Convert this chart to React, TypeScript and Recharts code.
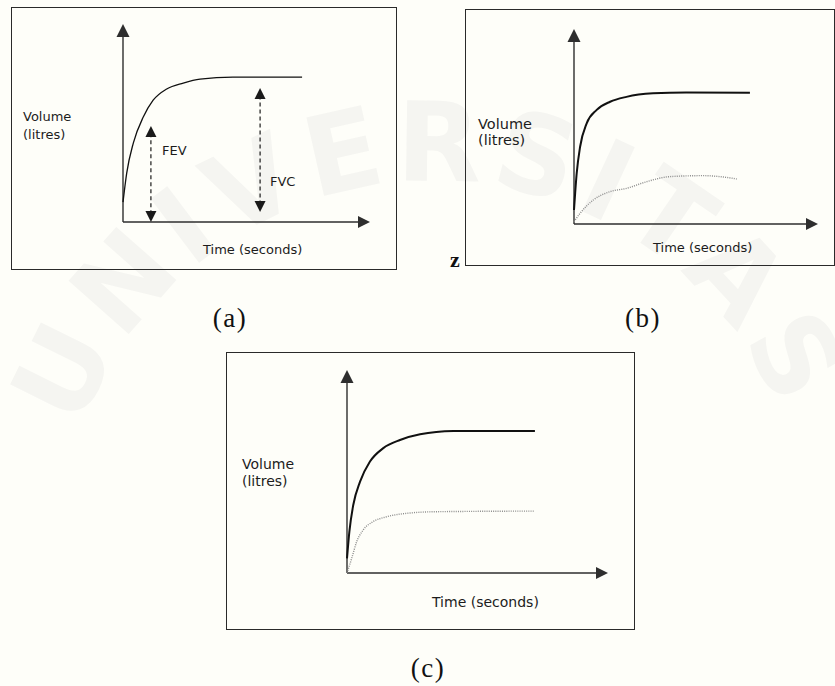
import React from 'react';
import { LineChart, Line, XAxis, YAxis, ReferenceLine } from 'recharts';

// spirometry traces on a 0-10 time / 0-10 volume grid
const timeA = [0, 0.15, 0.42, 0.82, 1.22, 1.77, 2.44, 3.12, 4.45, 7.25];
const volumeA = [1.0, 2.47, 4.0, 5.3, 6.15, 6.72, 7.02, 7.22, 7.32, 7.32];

const timeB = [0, 0.11, 0.25, 0.52, 0.93, 1.48, 2.15, 3.24, 4.6, 7.21];
const volumeB = [0.72, 2.6, 3.96, 5.16, 5.85, 6.27, 6.52, 6.7, 6.75, 6.73];
const timeBLow = [0, 0.25, 0.79, 1.48, 2.16, 2.98, 3.93, 5.3, 5.98, 6.67];
const volumeBLow = [0.12, 0.55, 1.23, 1.66, 1.83, 2.17, 2.43, 2.48, 2.43, 2.31];

const timeC = [0, 0.09, 0.24, 0.5, 0.88, 1.39, 2.03, 2.8, 4.08, 5.35, 7.2];
const volumeC = [0.72, 2.03, 3.35, 4.5, 5.49, 6.15, 6.55, 6.83, 6.99, 7.0, 7.0];
const timeCLow = [0, 0.18, 0.37, 0.62, 1.0, 1.52, 2.29, 3.44, 7.2];
const volumeCLow = [0.01, 0.72, 1.54, 2.12, 2.53, 2.77, 2.94, 3.02, 3.05];

// FEV / FVC markers in panel (a): [time, from volume, to volume]
const fevSpan = [1.13, 0, 4.85];
const fvcSpan = [5.55, 0.5, 6.77];

const toRows = (t: number[], v: number[]) => t.map((x, i) => ({ t: x, v: v[i] }));

const SANS = '"DejaVu Sans", Verdana, sans-serif';
const SERIF = '"Liberation Serif", "Times New Roman", serif';
const INK = '#1c1c1c';

// line with filled arrow heads at either end
const Arrow = (props: any) => {
  const { x1, y1, x2, y2, stroke, strokeWidth, strokeDasharray, atStart, atEnd, head = 12 } = props;
  const dx = x2 - x1;
  const dy = y2 - y1;
  const len = Math.hypot(dx, dy) || 1;
  const ux = dx / len;
  const uy = dy / len;
  const hw = head * 0.5;
  const tri = (tx: number, ty: number, dir: number) => {
    const bx = tx - ux * head * dir;
    const by = ty - uy * head * dir;
    return `${tx},${ty} ${bx - uy * hw},${by + ux * hw} ${bx + uy * hw},${by - ux * hw}`;
  };
  const sx = atStart ? x1 + ux * head * 0.7 : x1;
  const sy = atStart ? y1 + uy * head * 0.7 : y1;
  const ex = atEnd ? x2 - ux * head * 0.7 : x2;
  const ey = atEnd ? y2 - uy * head * 0.7 : y2;
  return (
    <g>
      <line x1={sx} y1={sy} x2={ex} y2={ey} stroke={stroke} strokeWidth={strokeWidth} strokeDasharray={strokeDasharray} />
      {atStart && <polygon points={tri(x1, y1, -1)} fill={stroke} />}
      {atEnd && <polygon points={tri(x2, y2, 1)} fill={stroke} />}
    </g>
  );
};

type Trace = { rows: { t: number; v: number }[]; dotted?: boolean; width?: number };
type Span = number[];

type PanelProps = {
  box: { left: number; top: number; width: number; height: number };
  margin: { left: number; top: number; right: number; bottom: number };
  traces: Trace[];
  spans?: Span[];
};

const Panel = ({ box, margin, traces, spans = [] }: PanelProps) => (
  <div style={{ position: 'absolute', left: box.left, top: box.top, width: box.width, height: box.height }}>
    <div
      style={{
        position: 'absolute',
        inset: 0,
        border: '1px solid #2a2a2a',
        boxSizing: 'border-box',
      }}
    />
    <div style={{ position: 'absolute', left: 0, top: 0 }}>
      <LineChart width={box.width} height={box.height} margin={margin}>
        <XAxis type="number" dataKey="t" domain={[0, 10]} hide />
        <YAxis type="number" dataKey="v" domain={[0, 10]} hide />
        <ReferenceLine
          segment={[{ x: 0, y: 0 }, { x: 10, y: 0 }]}
          stroke="#2e2e2e"
          strokeWidth={1.4}
          shape={(p: any) => <Arrow {...p} atEnd head={12} />}
        />
        <ReferenceLine
          segment={[{ x: 0, y: 0 }, { x: 0, y: 10 }]}
          stroke="#2e2e2e"
          strokeWidth={1.4}
          shape={(p: any) => <Arrow {...p} atEnd head={13} />}
        />
        {spans.map((s, i) => (
          <ReferenceLine
            key={`span-${i}`}
            segment={[{ x: s[0], y: s[1] }, { x: s[0], y: s[2] }]}
            stroke="#1a1a1a"
            strokeWidth={1.2}
            strokeDasharray="4 3"
            shape={(p: any) => <Arrow {...p} atStart atEnd head={11} />}
          />
        ))}
        {traces.map((tr, i) => (
          <Line
            key={`trace-${i}`}
            data={tr.rows}
            dataKey="v"
            type="monotone"
            stroke={tr.dotted ? '#8c8c8c' : '#111'}
            strokeWidth={tr.width ?? 1.4}
            strokeDasharray={tr.dotted ? '1 1.2' : undefined}
            dot={false}
            activeDot={false}
            isAnimationActive={false}
          />
        ))}
      </LineChart>
    </div>
  </div>
);

const Txt = ({ left, top, size, lh, children, style }: any) => (
  <div
    style={{
      position: 'absolute',
      left,
      top,
      fontFamily: SANS,
      fontSize: size,
      lineHeight: `${lh}px`,
      color: INK,
      whiteSpace: 'nowrap',
      ...style,
    }}
  >
    {children}
  </div>
);

const Caption = ({ cx, cy, children }: any) => (
  <div
    style={{
      position: 'absolute',
      left: cx - 30,
      top: cy - 15,
      width: 60,
      height: 30,
      lineHeight: '30px',
      textAlign: 'center',
      fontFamily: SERIF,
      fontSize: 27,
      letterSpacing: 1.5,
      color: '#111',
    }}
  >
    {children}
  </div>
);

// faint arched background lettering
const Watermark = () => (
  <svg width={835} height={686} style={{ position: 'absolute', left: 0, top: 0 }}>
    <defs>
      <path id="wm-arc" d="M 80 430 A 375 375 0 0 1 790 440" fill="none" />
    </defs>
    <text
      fontFamily={SANS}
      fontWeight="bold"
      fontSize={110}
      fill="#f5f5f1"
      textLength={900}
      lengthAdjust="spacing"
    >
      <textPath href="#wm-arc">UNIVERSITAS</textPath>
    </text>
  </svg>
);

export default function App() {
  return (
    <div
      style={{
        position: 'absolute',
        left: 0,
        top: 0,
        width: 835,
        height: 686,
        overflow: 'hidden',
        background: '#fefef9',
      }}
    >
      <Watermark />

      {/* (a) single trace with FEV / FVC */}
      <Panel
        box={{ left: 11, top: 7, width: 386, height: 263 }}
        margin={{ left: 112, top: 17, right: 27, bottom: 48 }}
        traces={[{ rows: toRows(timeA, volumeA), width: 1.3 }]}
        spans={[fevSpan, fvcSpan]}
      />
      <Txt left={23} top={108} size={13} lh={18}>
        Volume
        <br />
        (litres)
      </Txt>
      <Txt left={162} top={142} size={13} lh={18}>FEV</Txt>
      <Txt left={270} top={173} size={13} lh={18}>FVC</Txt>
      <Txt left={203} top={241} size={13} lh={18}>Time (seconds)</Txt>

      {/* (b) normal vs restricted */}
      <Panel
        box={{ left: 465, top: 9, width: 370, height: 257 }}
        margin={{ left: 109, top: 20, right: 17, bottom: 42 }}
        traces={[
          { rows: toRows(timeBLow, volumeBLow), dotted: true },
          { rows: toRows(timeB, volumeB), width: 2 },
        ]}
      />
      <Txt left={478} top={116} size={14.5} lh={16}>
        Volume
        <br />
        (litres)
      </Txt>
      <Txt left={653} top={239} size={13} lh={18}>Time (seconds)</Txt>
      <div
        style={{
          position: 'absolute',
          left: 450,
          top: 249,
          fontFamily: SERIF,
          fontWeight: 'bold',
          fontSize: 22,
          lineHeight: '22px',
          color: '#111',
        }}
      >
        z
      </div>

      {/* (c) normal vs obstructed */}
      <Panel
        box={{ left: 226, top: 352, width: 409, height: 278 }}
        margin={{ left: 121, top: 18, right: 27, bottom: 57 }}
        traces={[
          { rows: toRows(timeCLow, volumeCLow), dotted: true },
          { rows: toRows(timeC, volumeC), width: 2 },
        ]}
      />
      <Txt left={242} top={456} size={14} lh={17}>
        Volume
        <br />
        (litres)
      </Txt>
      <Txt left={432} top={593} size={14} lh={18}>Time (seconds)</Txt>

      <Caption cx={230} cy={318}>(a)</Caption>
      <Caption cx={643} cy={318}>(b)</Caption>
      <Caption cx={428} cy={668}>(c)</Caption>
    </div>
  );
}
